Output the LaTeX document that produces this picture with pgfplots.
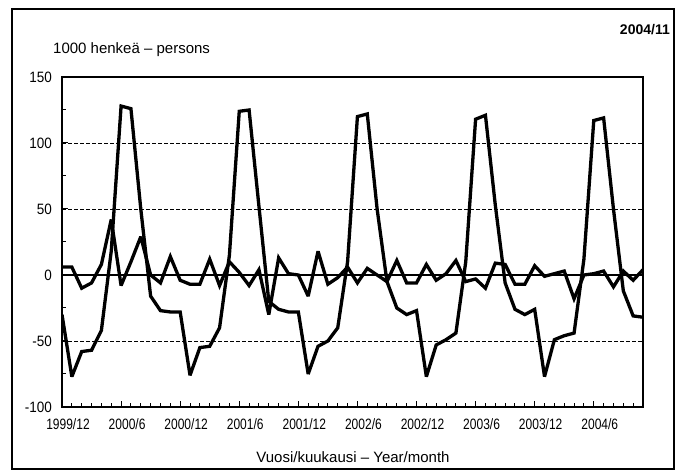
\documentclass[border=0pt]{standalone}
\usepackage{pgfplots}
\pgfplotsset{compat=1.18}
\usepackage{pgfplotstable}
\usepackage{fontspec}
\setmainfont{Liberation Sans}
\newfontfamily\xnarrow[FakeStretch=0.8]{Liberation Sans}
\newfontfamily\ynarrow[FakeStretch=0.9]{Liberation Sans}

\pgfplotstableread{
i a b
0 -30 6
1 -77 6
2 -58 -10
3 -57 -6
4 -42 8
5 18 42
6 128 -8
7 126 10
8 50 29
9 -16 0
10 -27 -6
11 -28 14
12 -28 -4
13 -76 -7
14 -55 -7
15 -54 12
16 -40 -8
17 15 10
18 124 2
19 125 -8
20 52 4
21 -20 -30
22 -26 13
23 -28 1
24 -28 0
25 -75 -16
26 -54 18
27 -50 -7
28 -40 -2
29 10 6
30 120 -6
31 122 5
32 50 0
33 -5 -5
34 -25 11
35 -30 -6
36 -27 -6
37 -77 8
38 -53 -4
39 -49 1
40 -44 11
41 10 -5
42 118 -3
43 121 -10
44 53 9
45 -6 8
46 -26 -7
47 -30 -7
48 -26 7
49 -77 -1
50 -49 1
51 -46 3
52 -44 -18
53 12 0
54 117 1
55 119 3
56 50 -9
57 -12 3
58 -31 -4
59 -32 4
}\data

\begin{document}
\begin{tikzpicture}
\path[use as bounding box] (-62pt,-63pt) rectangle (622pt,407pt);
\begin{axis}[
  at={(0pt,0pt)}, anchor=south west,
  scale only axis, width=581pt, height=330pt,
  xmin=0, xmax=59, ymin=-100, ymax=150,
  xtick={0,6,...,54},
  xticklabels={1999/12,2000/6,2000/12,2001/6,2001/12,2002/6,2002/12,2003/6,2003/12,2004/6},
  minor xtick={0,...,59},
  ytick={-100,-50,...,150},
  yticklabels={-100,-50,0,50,100,150},
  minor ytick={-75,-25,25,75,125},
  tick align=inside, tick pos=left,
  major tick length=6pt, minor tick length=4pt,
  tick style={black, line width=1pt},
  axis line style={line width=1.5pt},
  ymajorgrids,
  major grid style={black, line width=0.9pt, dash pattern=on 4pt off 2pt},
  extra y ticks={0}, extra y tick labels={},
  extra y tick style={grid=major, major grid style={solid, black, line width=1.2pt}},
  xticklabel style={font=\xnarrow\fontsize{15}{15}\selectfont, inner sep=0pt, anchor=north, yshift=-11pt, xshift=6pt},
  yticklabel style={font=\ynarrow\fontsize{15}{15}\selectfont, inner sep=0pt, anchor=east, xshift=-10pt},
]
\addplot[black, line width=3.3pt, line join=miter, miter limit=3] table[x=i,y=a]{\data};
\addplot[black, line width=3.3pt, line join=miter, miter limit=3] table[x=i,y=b]{\data};
\end{axis}
\draw[line width=1.6pt] (-50pt,-62pt) rectangle (612pt,398pt);
\node[anchor=west, font=\fontsize{15}{15}\selectfont, inner sep=0pt] at (-9pt,357pt) {1000 henkeä – persons};
\node[anchor=east, font=\bfseries\fontsize{14}{14}\selectfont, inner sep=0pt] at (608pt,377pt) {2004/11};
\node[font=\fontsize{15}{15}\selectfont, inner sep=0pt] at (291pt,-50pt) {Vuosi/kuukausi – Year/month};
\end{tikzpicture}
\end{document}
